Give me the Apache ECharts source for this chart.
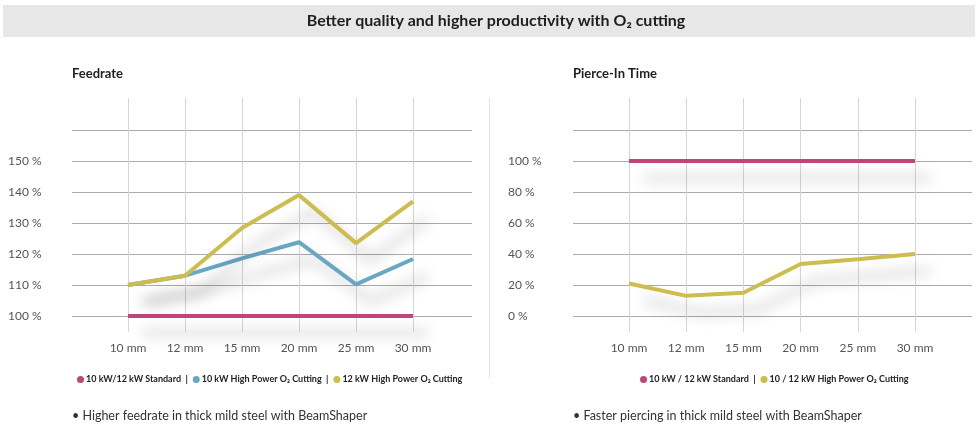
<!DOCTYPE html>
<html>
<head>
<meta charset="utf-8">
<script src="https://cdn.jsdelivr.net/npm/echarts@6/dist/echarts.min.js"></script>
<style>
html,body{margin:0;padding:0;background:#fff;}
#c{width:980px;height:436px;}
</style>
</head>
<body>
<div id="c"></div>
<script>
// ---- data ----
const categories = ['10 mm', '12 mm', '15 mm', '20 mm', '25 mm', '30 mm'];

const feedNames = ['10 kW/12 kW Standard', '10 kW High Power O\u2082 Cutting', '12 kW High Power O\u2082 Cutting'];
const feedStandard = [100, 100, 100, 100, 100, 100];
const feed10kW = [110, 113, 118.6, 123.8, 110.2, 118.4];
const feed12kW = [110, 113, 128.4, 139, 123.5, 137];
const feedAxis = { min: 100, max: 160, interval: 10 };

const pierceNames = ['10 kW / 12 kW Standard', '10 / 12 kW High Power O\u2082 Cutting'];
const pierceStandard = [100, 100, 100, 100, 100, 100];
const pierceHP = [21, 13, 15, 33.5, 36.6, 40];
const pierceAxis = { min: 0, max: 120, interval: 20 };

const mainTitle = 'Better quality and higher productivity with O\u2082 cutting';
const leftTitle = 'Feedrate';
const rightTitle = 'Pierce-In Time';
const leftNote = '\u2022 Higher feedrate in thick mild steel with BeamShaper';
const rightNote = '\u2022 Faster piercing in thick mild steel with BeamShaper';

// ---- style ----
const FONT = 'Lato, "Noto Sans", sans-serif';
const C_PINK = '#c0467a', C_BLUE = '#68a8c4', C_YEL = '#cdbd4f';
const H_GRID = '#ababab', V_GRID = '#d6d6d6';
const PLOT_TOP = 130, PLOT_H = 186;

const chart = echarts.init(document.getElementById('c'), null, { renderer: 'canvas' });

function panel(gx, catL, catR) {
  const step = (catR - catL) / (categories.length - 1);
  // grids for: horizontal lines, vertical lines, data (data grid padded so line shadows are not cut)
  return [
    { left: gx[0], width: gx[1] - gx[0], top: PLOT_TOP, height: PLOT_H, containLabel: false },
    { left: catL, width: catR - catL, top: 98, height: 234, containLabel: false },
    { left: catL - step, width: catR - catL + 2 * step, top: PLOT_TOP - 62, height: PLOT_H + 124, containLabel: false }
  ];
}

const grids = [].concat(
  panel([72, 472], 128, 413),
  panel([573, 972], 629, 915)
);

function axesFor(offset, axisCfg, gridLeft, labelX) {
  const unit = (axisCfg.max - axisCfg.min) / PLOT_H; // value per pixel
  const pad = 62 * unit;
  const xs = [
    { gridIndex: offset, type: 'value', min: 0, max: 1, show: false },
    { gridIndex: offset + 1, type: 'category', data: categories, boundaryGap: false,
      axisLine: { show: false }, axisTick: { show: false },
      axisLabel: { color: '#555', fontFamily: FONT, fontSize: 12, margin: 10 },
      splitLine: { show: true, lineStyle: { color: V_GRID, width: 1 } } },
    { gridIndex: offset + 2, type: 'category', data: categories, boundaryGap: false, show: false,
      min: -1, max: categories.length }
  ];
  const ys = [
    { gridIndex: offset, type: 'value', min: axisCfg.min, max: axisCfg.max, interval: axisCfg.interval,
      axisLine: { show: false }, axisTick: { show: false },
      axisLabel: { color: '#555', fontFamily: FONT, fontSize: 12, align: 'left', margin: gridLeft - labelX,
        showMaxLabel: false, formatter: v => (v === axisCfg.max ? '' : v + ' %') },
      splitLine: { show: true, lineStyle: { color: H_GRID, width: 1 } } },
    { gridIndex: offset + 1, type: 'value', min: 0, max: 1, show: false, splitLine: { show: false } },
    { gridIndex: offset + 2, type: 'value', min: axisCfg.min - pad, max: axisCfg.max + pad, show: false }
  ];
  return { xs, ys };
}

const a1 = axesFor(0, feedAxis, 72, 8);
const a2 = axesFor(3, pierceAxis, 573, 508);

function lineSeries(name, data, color, axisIdx) {
  return {
    name, type: 'line', data, xAxisIndex: axisIdx, yAxisIndex: axisIdx,
    symbol: 'none', silent: true, animation: false, clip: false,
    itemStyle: { color },
    lineStyle: { color, width: 4, shadowColor: 'rgba(0,0,0,0.26)', shadowBlur: 14, shadowOffsetX: 15, shadowOffsetY: 17 }
  };
}

const series = [
  lineSeries(feedNames[0], feedStandard, C_PINK, 2),
  lineSeries(feedNames[1], feed10kW, C_BLUE, 2),
  lineSeries(feedNames[2], feed12kW, C_YEL, 2),
  lineSeries(pierceNames[0], pierceStandard, C_PINK, 5),
  lineSeries(pierceNames[1], pierceHP, C_YEL, 5)
];

function legendFor(names, left) {
  return {
    data: names.map(n => ({ name: n, icon: 'circle' })),
    left, top: 375, itemWidth: 7, itemHeight: 7, itemGap: 5, padding: 0,
    selectedMode: false,
    itemStyle: { shadowBlur: 0, shadowOffsetX: 0, shadowOffsetY: 0 },
    textStyle: { fontFamily: FONT, fontSize: 9, fontWeight: 'bold', color: '#222', padding: [0, 0, 0, -3] },
    formatter: n => (n === names[names.length - 1] ? n : n + '  |')
  };
}

chart.setOption({
  backgroundColor: '#fff',
  animation: false,
  grid: grids,
  xAxis: a1.xs.concat(a2.xs),
  yAxis: a1.ys.concat(a2.ys),
  legend: [legendFor(feedNames, 77), legendFor(pierceNames, 640)],
  series,
  graphic: [
    { type: 'rect', shape: { x: 3, y: 5, width: 972, height: 32 }, style: { fill: '#e7e7e7' }, z: -1 },
    { type: 'text', x: 496, y: 21, style: { text: mainTitle, fontFamily: FONT, fontSize: 16, fontWeight: 'bold', fill: '#1e1e1e', align: 'center', verticalAlign: 'middle' } },
    { type: 'text', x: 72, y: 74, style: { text: leftTitle, fontFamily: FONT, fontSize: 13, fontWeight: 'bold', fill: '#1e1e1e', verticalAlign: 'middle' } },
    { type: 'text', x: 573, y: 74, style: { text: rightTitle, fontFamily: FONT, fontSize: 13, fontWeight: 'bold', fill: '#1e1e1e', verticalAlign: 'middle' } },
    { type: 'line', shape: { x1: 489.5, y1: 98, x2: 489.5, y2: 378 }, style: { stroke: '#e4e4e4', lineWidth: 1 } },
    { type: 'text', x: 72, y: 416, style: { text: leftNote, fontFamily: FONT, fontSize: 12.5, fill: '#333', verticalAlign: 'middle' } },
    { type: 'text', x: 573, y: 416, style: { text: rightNote, fontFamily: FONT, fontSize: 12.5, fill: '#333', verticalAlign: 'middle' } }
  ]
});
</script>
</body>
</html>
